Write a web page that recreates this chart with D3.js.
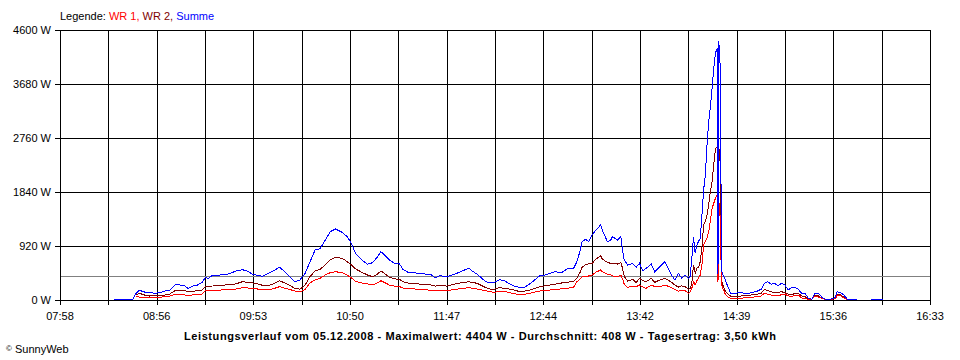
<!DOCTYPE html>
<html><head><meta charset="utf-8">
<script src="https://cdn.jsdelivr.net/npm/d3@7"></script>
<style>
body{margin:0;background:#fff}
svg{display:block}
text{font-family:"Liberation Sans",Arial,sans-serif;font-size:11px}
</style>
</head><body><svg id="c" width="960" height="360"></svg>
<script>
// ---- data ----
const times = ["08:30","08:41","08:43","08:45","08:48","08:51","08:54","08:57","09:00","09:03","09:06","09:09","09:12","09:14","09:16","09:19","09:22","09:24","09:26","09:28","09:33","09:36","09:39","09:42","09:46","09:49","09:52","09:55","09:58","10:01","10:04","10:08","10:11","10:14","10:17","10:20","10:23","10:26","10:29","10:32","10:35","10:38","10:41","10:45","10:48","10:50","10:53","10:56","11:00","11:03","11:06","11:08","11:10","11:13","11:16","11:19","11:21","11:24","11:27","11:30","11:34","11:38","11:40","11:43","11:47","11:52","11:56","12:00","12:02","12:05","12:10","12:13","12:15","12:18","12:21","12:24","12:27","12:30","12:33","12:36","12:39","12:42","12:45","12:48","12:51","12:55","12:58","13:02","13:04","13:06","13:07","13:09","13:11","13:13","13:15","13:18","13:19","13:22","13:24","13:25","13:28","13:30","13:31","13:32","13:34","13:37","13:39","13:41","13:43","13:45","13:48","13:50","13:53","13:56","13:58","14:00","14:02","14:04","14:06","14:08","14:10","14:11","14:12","14:13","14:14","14:15","14:16","14:17","14:18","14:19","14:20","14:21","14:22","14:23","14:24","14:25","14:26","14:27","14:27:30","14:28","14:28:30","14:29","14:29:30","14:30","14:31:30","14:33","14:35","14:38","14:41","14:44","14:47","14:50","14:53","14:55","14:57","14:59","15:01","15:03","15:05","15:07","15:09","15:11","15:13","15:15","15:17","15:19","15:21","15:23","15:25","15:27","15:29","15:31","15:34","15:37","15:38","15:40","15:42","15:44","15:47","15:50","15:51","15:58","16:05"];
const summe = [10,12,114,165,136,136,114,125,153,170,256,256,238,193,233,250,295,380,369,415,426,431,455,494,517,489,438,420,403,449,494,557,482,397,312,341,450,650,852,875,1022,1164,1210,1153,1079,993,795,699,608,636,738,823,767,682,625,613,523,472,466,455,443,426,380,415,397,443,494,540,494,438,312,295,295,345,329,280,232,216,216,273,341,415,426,455,482,466,528,540,653,852,994,1034,994,1108,1181,1278,1193,994,1022,1079,1022,1079,852,682,596,625,557,625,500,540,613,482,567,653,540,426,341,455,369,426,369,400,700,1079,795,937,1000,1051,1450,1874,2130,2641,3039,3300,3600,3950,4204,4289,450,4404,4123,3900,540,455,369,250,114,114,131,102,125,142,182,284,312,267,284,240,284,260,170,210,216,182,114,114,29,12,114,114,46,12,12,46,142,125,85,17,12,12,null,12,12];
const wr2 = [null,null,85,114,85,68,75,68,85,102,159,159,159,142,142,159,170,227,230,238,245,256,265,273,312,300,290,273,250,245,273,329,290,250,199,185,250,400,494,523,596,682,727,710,653,610,530,482,426,397,443,494,455,390,360,352,310,290,280,273,267,255,238,240,238,273,295,312,300,284,210,182,182,210,199,187,170,142,150,170,199,227,240,256,270,290,300,320,369,480,557,600,615,620,690,755,700,640,625,620,613,636,540,400,324,352,295,369,330,312,369,300,341,369,340,300,256,220,240,230,182,200,284,596,455,540,560,653,900,1278,1335,1450,1619,1850,2016,2300,2585,2612,400,2620,2414,2300,369,284,170,110,68,68,68,75,85,95,114,182,160,142,125,130,142,125,100,90,110,114,70,57,12,12,85,70,29,12,12,25,102,90,50,17,null,null,null,null,null];
const wr1 = [null,null,57,50,46,46,46,46,57,68,97,97,85,80,85,95,102,159,159,165,170,175,182,187,210,205,195,187,175,175,190,227,199,180,153,135,180,290,345,369,426,466,482,466,426,385,320,295,273,256,295,329,300,255,235,227,205,195,190,182,175,165,159,159,159,182,195,210,200,187,159,140,125,150,153,125,110,90,95,114,135,153,160,170,178,190,200,215,312,360,397,405,409,426,470,511,480,440,426,410,400,426,360,270,216,238,225,256,220,199,256,230,227,256,235,205,182,150,160,160,114,140,199,312,260,330,380,426,600,937,994,1050,1164,1350,1562,1650,1733,1789,300,1675,1600,1200,300,227,114,60,29,29,29,40,46,55,68,114,100,85,75,68,90,102,70,60,80,85,35,29,12,12,68,50,29,12,12,20,85,70,35,12,null,null,null,null,null];
const yTickValues = [0, 920, 1840, 2760, 3680, 4600];
const xTickLabels = ["07:58","08:56","09:53","10:50","11:47","12:44","13:42","14:39","15:36","16:33"];
const averageW = 408;
const legendParts = [["Legende: ","#000000"],["WR 1, ","#ff0000"],["WR 2, ","#800000"],["Summe","#0000ff"]];
const titleText = "Leistungsverlauf vom 05.12.2008 - Maximalwert: 4404 W - Durchschnitt: 408 W - Tagesertrag: 3,50 kWh";
const copyText = "SunnyWeb";

// ---- chart ----
const toMin = s => { const p = s.split(":").map(Number); return p[0]*60 + p[1] + (p[2]||0)/60; };
const svg = d3.select("#c");
const L = 60, R = 930, T = 30, B = 300;
const x = d3.scaleLinear().domain([toMin(xTickLabels[0]), toMin(xTickLabels[xTickLabels.length-1])]).range([L, R]);
const y = d3.scaleLinear().domain([0, 4600]).range([B, T]);

const nGrid = (xTickLabels.length - 1) * 2;
const gridMins = d3.range(nGrid + 1).map(i => x.domain()[0] + i * (x.domain()[1] - x.domain()[0]) / nGrid);

const g = svg.append("g").attr("shape-rendering", "crispEdges");
g.selectAll(".vg").data(gridMins).join("line")
  .attr("x1", d => Math.round(x(d)) + 0.5).attr("x2", d => Math.round(x(d)) + 0.5)
  .attr("y1", T).attr("y2", B + 5).attr("stroke", "#000");
g.selectAll(".hg").data(yTickValues).join("line")
  .attr("x1", L - 5).attr("x2", R + 1)
  .attr("y1", d => Math.round(y(d)) + 0.5).attr("y2", d => Math.round(y(d)) + 0.5)
  .attr("stroke", "#000");
g.append("line").attr("x1", L + 1).attr("x2", R)
  .attr("y1", Math.round(y(averageW)) + 0.5).attr("y2", Math.round(y(averageW)) + 0.5)
  .attr("stroke", "#808080");

svg.selectAll(".yl").data(yTickValues).join("text")
  .attr("x", 51).attr("y", d => y(d) + 4).attr("text-anchor", "end").attr("fill", "#000")
  .text(d => d + " W");
svg.selectAll(".xl").data(xTickLabels).join("text")
  .attr("x", (d, i) => x(gridMins[i * 2])).attr("y", 320).attr("text-anchor", "middle").attr("fill", "#000")
  .text(d => d);

const tm = times.map(toMin);
const series = [[wr2, "#800000"], [wr1, "#ff0000"], [summe, "#0000ff"]];
const line = d3.line().defined(d => d[1] != null).x(d => x(d[0])).y(d => y(d[1]));
series.forEach(([vals, col]) => {
  svg.append("path").datum(tm.map((t, i) => [t, vals[i]]))
    .attr("d", line).attr("fill", "none").attr("stroke", col).attr("stroke-width", 1)
    .attr("shape-rendering", "crispEdges");
});

const lg = svg.append("text").attr("x", 60).attr("y", 20);
legendParts.forEach(([t, c]) => lg.append("tspan").attr("fill", c).text(t));

svg.append("text").attr("x", 480).attr("y", 340).attr("text-anchor", "middle")
  .attr("font-weight", "bold").attr("font-size", "12px").attr("fill", "#000")
  .attr("textLength", 592).attr("lengthAdjust", "spacing").text(titleText);
const cp = svg.append("text").attr("x", 6).attr("y", 353).attr("fill", "#000");
cp.append("tspan").attr("font-size", "8px").attr("dy", "-2").text("\u00A9");
cp.append("tspan").attr("dy", "2").text(" " + copyText);
</script>
</body></html>
